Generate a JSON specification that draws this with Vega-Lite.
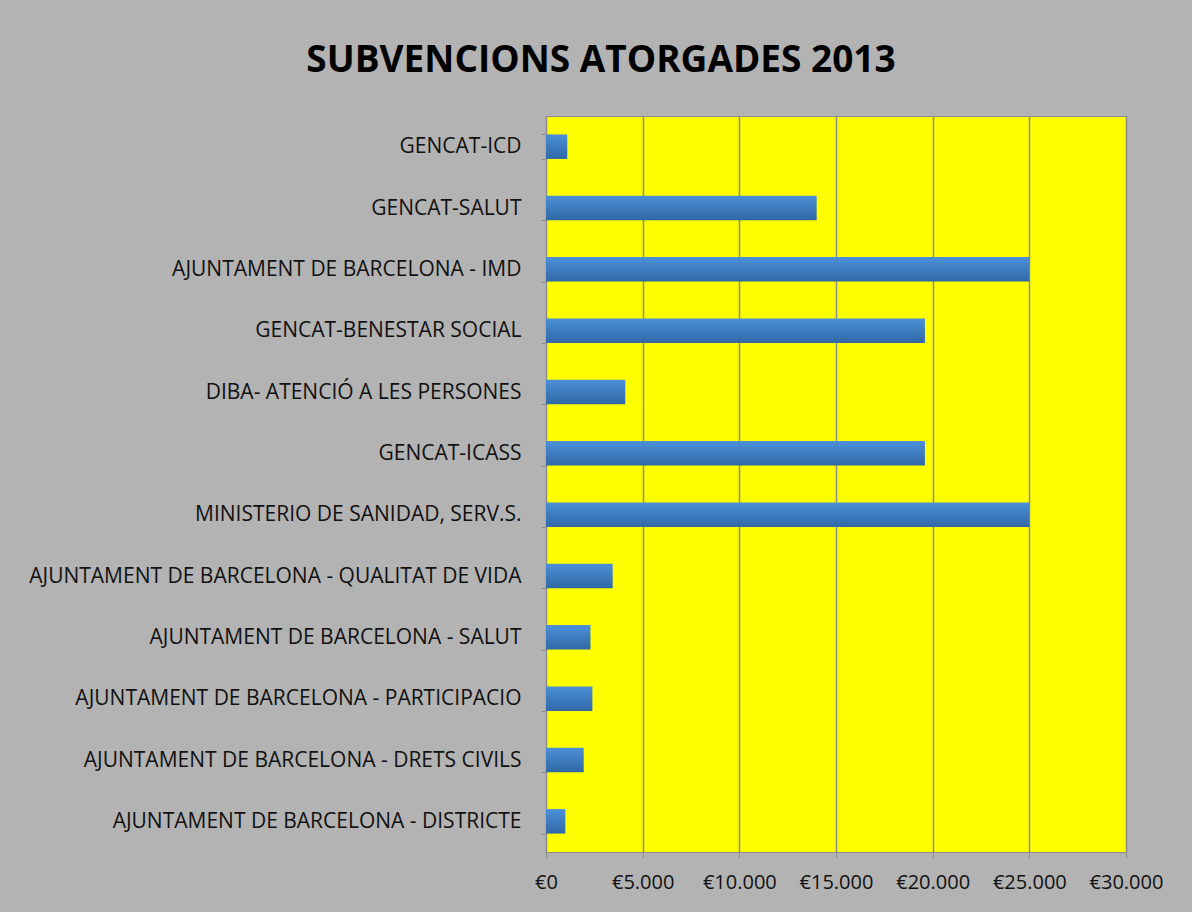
{
  "$schema": "https://vega.github.io/schema/vega-lite/v6.json",
  "width": 580,
  "height": 736,
  "autosize": {"type": "none"},
  "padding": {"left": 546, "top": 116, "right": 66, "bottom": 60},
  "background": "#b3b3b3",
  "title": {
    "text": "SUBVENCIONS ATORGADES 2013",
    "font": "Open Sans",
    "fontSize": 37,
    "fontWeight": "bold",
    "color": "#000000",
    "anchor": "middle",
    "frame": "group",
    "dx": -235,
    "baseline": "alphabetic",
    "offset": -4
  },
  "data": {
    "values": [
      {"entitat": "GENCAT-ICD", "import": 1100},
      {"entitat": "GENCAT-SALUT", "import": 14000},
      {"entitat": "AJUNTAMENT DE BARCELONA - IMD", "import": 25000},
      {"entitat": "GENCAT-BENESTAR SOCIAL", "import": 19600},
      {"entitat": "DIBA- ATENCIÓ A LES PERSONES", "import": 4100},
      {"entitat": "GENCAT-ICASS", "import": 19600},
      {"entitat": "MINISTERIO DE SANIDAD, SERV.S.", "import": 25000},
      {"entitat": "AJUNTAMENT DE BARCELONA - QUALITAT DE VIDA", "import": 3450},
      {"entitat": "AJUNTAMENT DE BARCELONA - SALUT", "import": 2300},
      {"entitat": "AJUNTAMENT DE BARCELONA - PARTICIPACIO", "import": 2400},
      {"entitat": "AJUNTAMENT DE BARCELONA - DRETS CIVILS", "import": 1950},
      {"entitat": "AJUNTAMENT DE BARCELONA - DISTRICTE", "import": 1000}
    ]
  },
  "config": {
    "view": {"fill": "#ffff00", "stroke": "#8c8c8c", "strokeWidth": 1},
    "axis": {
      "labelFont": "Open Sans",
      "labelFontSize": 21,
      "labelColor": "#111111",
      "domainColor": "#8c8c8c",
      "tickColor": "#8c8c8c",
      "gridColor": "#8c8c8c",
      "gridWidth": 1.5,
      "domainWidth": 1,
      "tickWidth": 1
    }
  },
  "mark": {
    "type": "bar",
    "color": {
      "gradient": "linear",
      "x1": 0, "y1": 0, "x2": 0, "y2": 1,
      "stops": [
        {"offset": 0, "color": "#4c90d8"},
        {"offset": 1, "color": "#3068a6"}
      ]
    }
  },
  "encoding": {
    "y": {
      "field": "entitat",
      "type": "nominal",
      "sort": null,
      "title": null,
      "scale": {"paddingInner": 0.6, "paddingOuter": 0.3},
      "axis": {
        "tickBand": "extent",
        "tickSize": 5,
        "labelPadding": 20,
        "labelLimit": 600,
        "grid": false
      }
    },
    "x": {
      "field": "import",
      "type": "quantitative",
      "title": null,
      "scale": {"domain": [0, 30000], "nice": false},
      "axis": {
        "values": [0, 5000, 10000, 15000, 20000, 25000, 30000],
        "grid": true,
        "tickSize": 6,
        "labelPadding": 14,
        "labelFontSize": 20,
        "labelOverlap": false,
        "labelFlush": false,
        "labelBound": false,
        "labelExpr": "'€' + replace(format(datum.value, ',d'), ',', '.')"
      }
    }
  }
}
